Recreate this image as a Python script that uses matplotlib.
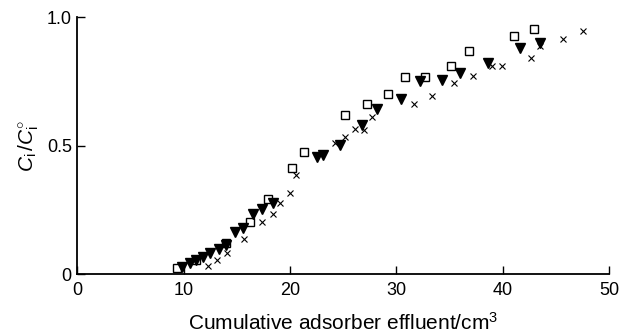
import numpy as np
import matplotlib
matplotlib.use('Agg')
from matplotlib import pyplot as plt

# ---- data
sq_x = [9.35, 11.2, 13.96, 16.25, 17.9, 20.2, 21.3, 25.2, 27.2, 29.2, 30.8, 32.7, 35.1, 36.8, 41.1, 42.9]
sq_y = [0.022, 0.055, 0.122, 0.204, 0.291, 0.412, 0.477, 0.62, 0.661, 0.701, 0.769, 0.769, 0.811, 0.869, 0.929, 0.957]

tri_x = [9.8, 10.6, 11.2, 11.85, 12.5, 13.3, 13.96, 14.84, 15.6, 16.55, 17.4, 18.4,
         22.5, 23.1, 24.7, 26.75, 28.2, 30.45, 32.2, 34.3, 36.0, 38.6, 41.6, 43.5]
tri_y = [0.028, 0.044, 0.055, 0.067, 0.08, 0.096, 0.113, 0.165, 0.18, 0.233, 0.252, 0.275,
         0.455, 0.464, 0.503, 0.58, 0.643, 0.683, 0.753, 0.756, 0.782, 0.823, 0.882, 0.901]

x_x = [12.33, 13.1, 14.05, 15.7, 17.35, 18.4, 19.07, 20.0, 20.57, 24.2, 25.2, 26.1,
       27.0, 27.7, 31.7, 33.4, 35.4, 37.2, 39.0, 39.9, 42.7, 43.5, 45.7, 47.6]
x_y = [0.031, 0.055, 0.08, 0.135, 0.204, 0.233, 0.278, 0.314, 0.386, 0.509, 0.533, 0.564,
       0.561, 0.611, 0.661, 0.692, 0.743, 0.772, 0.811, 0.811, 0.841, 0.889, 0.918, 0.948]

xticks = [0, 10, 20, 30, 40, 50]
yticks = [0, 0.5, 1.0]
ytick_labels = ['0', '0.5', '1.0']

# ---- plot
plt.rcParams['font.family'] = ['Liberation Sans', 'DejaVu Sans']
plt.rcParams['mathtext.fontset'] = 'custom'
plt.rcParams['mathtext.rm'] = 'Liberation Sans'
plt.rcParams['mathtext.it'] = 'Liberation Sans:italic'

fig = plt.figure(figsize=(6.21, 3.36), dpi=100)
ax = fig.add_axes([0.1245, 0.1845, 0.8562, 0.7635])

ax.plot(sq_x, sq_y, 's', ms=6, mfc='white', mec='black', mew=1.0, ls='none')
ax.plot(tri_x, tri_y, 'v', ms=6.5, color='black', ls='none')
ax.plot(x_x, x_y, 'x', ms=5, color='black', mew=0.8, ls='none')

ax.set_xlim(0, 50)
ax.set_ylim(0, 1.0)
ax.set_xticks(xticks)
ax.set_yticks(yticks)
ax.set_yticklabels(ytick_labels)
ax.spines['top'].set_visible(False)
ax.spines['right'].set_visible(False)
for s in ['left', 'bottom']:
    ax.spines[s].set_linewidth(1.3)
ax.tick_params(direction='in', length=6, width=1.0, labelsize=13)
ax.tick_params(axis='x', pad=6)
ax.tick_params(axis='y', pad=4)

ax.set_xlabel('Cumulative adsorber effluent/cm$^3$', fontsize=15, labelpad=9)
ax.set_ylabel(r'$C_\mathrm{i}\,/C_\mathrm{i}^{\circ}$', fontsize=15, labelpad=4)

plt.savefig('out.png', dpi=100)
